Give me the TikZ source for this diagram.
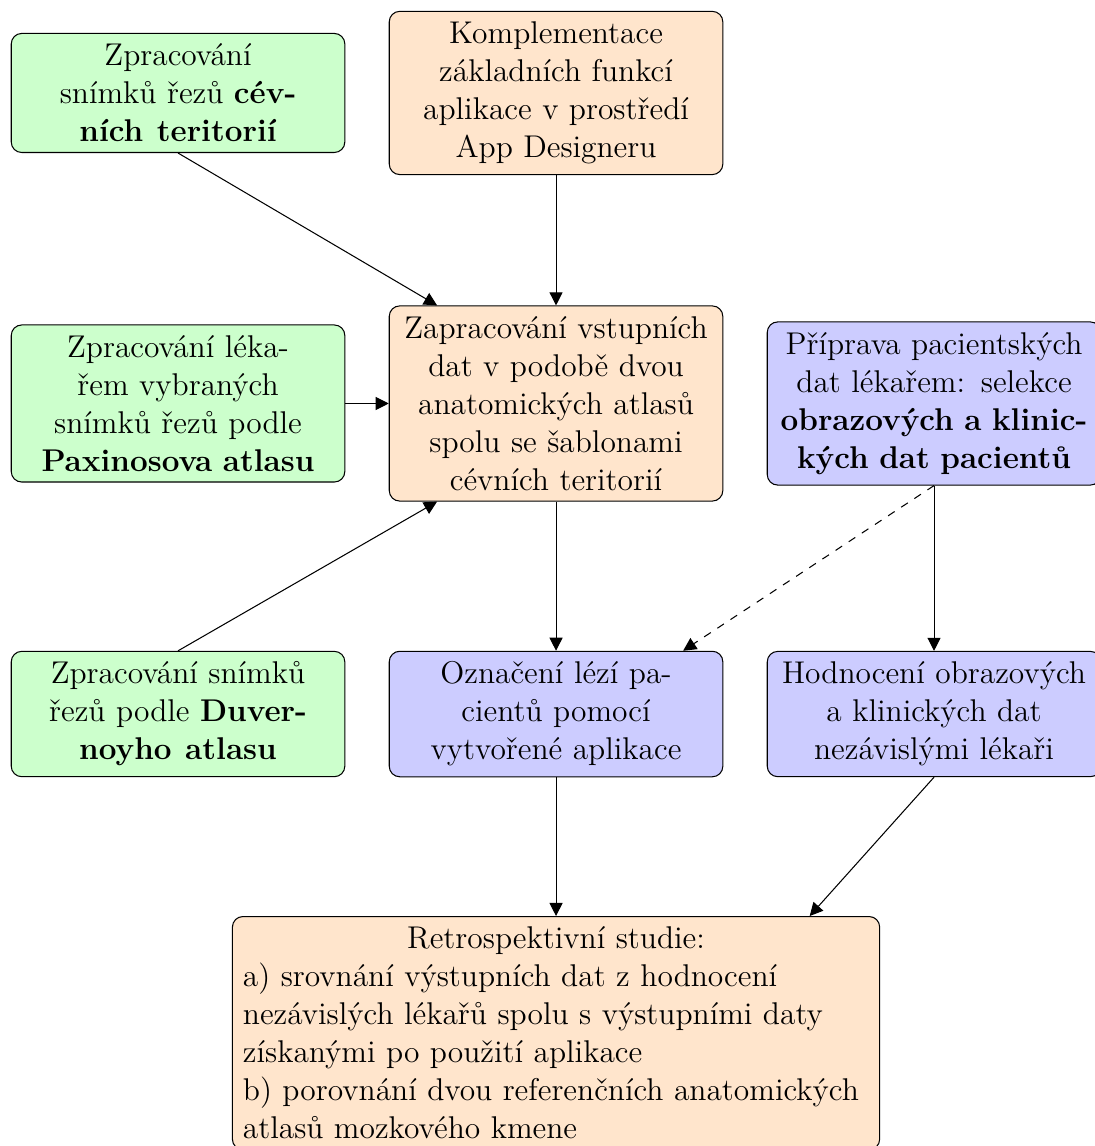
\documentclass[tikz,border=0pt,12pt]{standalone}
\usetikzlibrary{positioning, arrows.meta}

\tikzset{
  box/.style={draw, rounded corners, text width=119.3pt, align=center},
  vstup/.style={box, fill=green!20},
  hlavni/.style={box, fill=orange!20},
  pacient/.style={box, fill=blue!20}
}

\begin{document}
\begin{tikzpicture}[>={Triangle[length=5pt, width=5pt]}, node distance=4.165cm and 5.07cm, on grid]

   \useasboundingbox (-7.458,1.247) rectangle (7.216,-14.124);

   \node[hlavni] (komp) {Komplementace\\ základních funkcí\\ aplikace v prostředí\\ App Designeru};
   \node[vstup] (cevy) [left=of komp] {Zpracování\\ snímků řezů \textbf{cév-}\\ \textbf{ních\hspace{0.1em} teritorií}};
   \node[hlavni] (zap) [below=of komp] {Zapracování vstupních\\ dat v podobě dvou\\ anatomických atlasů\\ spolu se šablonami\\ cévních teritorií};
   \node[vstup] (paxinos) [left=of zap] {Zpracování léka-\\ řem vybraných\\ snímků řezů podle\\ \textbf{Paxinosova atlasu}};
   \node[pacient] (priprava) [right=of zap] {Příprava pacientských\\ dat lékařem: selekce\\ \textbf{obrazových a klinic-}\\ \textbf{kých dat pacientů}};
   \node[pacient] (oznaceni) [below=of zap] {Označení lézí pa-\\ cientů pomocí\\ vytvořené aplikace};
   \node[vstup] (duvernoy) [left=of oznaceni] {Zpracování snímků\\ řezů podle \textbf{Duver-}\\ \textbf{noyho\hspace{0.1em} atlasu}};
   \node[pacient] (hodnoceni) [right=of oznaceni] {Hodnocení obrazových\\ a klinických dat\\ nezávislými lékaři};
   \node[hlavni, text width=239pt, align=left] (studie) [below=4.28cm of oznaceni] {\makebox[\hsize]{Retrospektivní studie:}\\ a) srovnání výstupních dat z hodnocení\\ nezávislých lékařů spolu s výstupními daty\\ získanými po použití aplikace\\ b) porovnání dvou referenčních anatomických\\ atlasů mozkového kmene};

   \draw[->] (cevy.south) -- ([xshift=-45.4pt]zap.north);
   \draw[->] (komp) -- (zap);
   \draw[->] (paxinos) -- (zap);
   \draw[->] (duvernoy.north) -- ([xshift=-45.4pt]zap.south);
   \draw[->] (zap) -- (oznaceni);
   \draw[->] (priprava) -- (hodnoceni);
   \draw[->, dashed] (priprava.south) -- ([xshift=48.5pt]oznaceni.north);
   \draw[->] (oznaceni) -- (studie);
   \draw[->] (hodnoceni.south) -- ([xshift=96.8pt]studie.north);

\end{tikzpicture}
\end{document}
